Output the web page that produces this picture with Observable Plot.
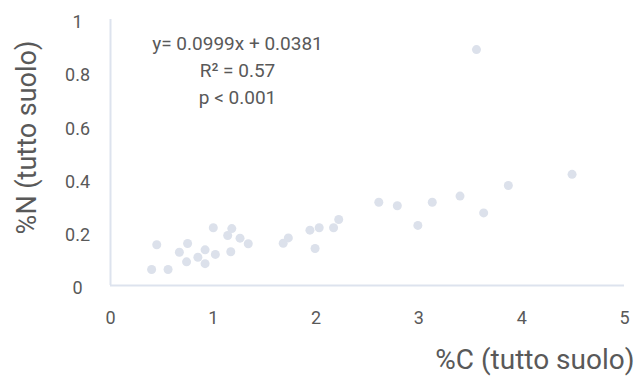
<!DOCTYPE html>
<html>
<head>
<meta charset="utf-8">
<script src="https://cdn.jsdelivr.net/npm/d3@7"></script>
<script src="https://cdn.jsdelivr.net/npm/@observablehq/plot@0.6"></script>
<style>
  html, body { margin: 0; padding: 0; background: #ffffff; }
  svg { display: block; }
</style>
</head>
<body>
<div id="chart"></div>
<script>
// %C (tutto suolo) values
const carbon = [0.40, 0.56, 0.45, 0.67, 0.75, 0.74, 0.85, 0.92, 0.92, 1.00, 1.02, 1.14, 1.18, 1.17, 1.26, 1.34,
                1.68, 1.73, 1.94, 2.03, 1.99, 2.17, 2.22, 2.61, 2.79, 2.99, 3.13, 3.40, 3.63, 3.87, 4.49, 3.56];
// %N (tutto suolo) values
const nitrogen = [0.060, 0.060, 0.153, 0.125, 0.158, 0.089, 0.106, 0.134, 0.082, 0.217, 0.117, 0.188, 0.214, 0.127, 0.178, 0.157,
                  0.159, 0.179, 0.208, 0.217, 0.139, 0.217, 0.248, 0.313, 0.300, 0.226, 0.313, 0.336, 0.273, 0.376, 0.418, 0.887];

const xTicks = [0, 1, 2, 3, 4, 5];
const xTickLabels = ["0", "1", "2", "3", "4", "5"];
const yTicks = [0, 0.2, 0.4, 0.6, 0.8, 1];
const yTickLabels = ["0", "0.2", "0.4", "0.6", "0.8", "1"];
const xTitle = "%C (tutto suolo)";
const yTitle = "%N (tutto suolo)";
const annotation = ["y= 0.0999x + 0.0381", "R² = 0.57", "p < 0.001"];

const points = carbon.map((c, i) => ({c, n: nitrogen[i]}));

const textColor = "#595959";
const axisColor = "#dde3ee";
const dotColor = "#dce1eb";
const font = "Roboto, 'DejaVu Sans', sans-serif";

const chart = Plot.plot({
  width: 637,
  height: 376,
  marginLeft: 110,
  marginRight: 13,
  marginTop: 19,
  marginBottom: 91,
  style: {fontFamily: font, background: "#ffffff", color: textColor},
  x: {domain: [0, 5]},
  y: {domain: [0, 1]},
  marks: [
    Plot.ruleX([0], {stroke: axisColor, strokeWidth: 2}),
    Plot.ruleY([0], {stroke: axisColor, strokeWidth: 2}),
    Plot.dot(points, {x: "c", y: "n", r: 4.5, fill: dotColor, stroke: "none"}),
    Plot.axisX({ticks: xTicks, tickSize: 0, tickPadding: 26, tickFormat: (d, i) => xTickLabels[i],
                fontSize: 18, fill: textColor, label: null}),
    Plot.axisY({ticks: yTicks, tickSize: 0, tickPadding: 33, textAnchor: "middle", dy: 3,
                tickFormat: (d, i) => yTickLabels[i], fontSize: 18, fill: textColor, label: null}),
    Plot.text([xTitle], {frameAnchor: "bottom-right", text: d => d, textAnchor: "end", lineAnchor: "middle",
                dx: 10, dy: 75, fontSize: 28, fill: textColor}),
    Plot.text([yTitle], {frameAnchor: "left", text: d => d, textAnchor: "middle", lineAnchor: "middle",
                rotate: -90, dx: -83, dy: -15, fontSize: 27, fill: textColor}),
    Plot.text([annotation.join("\n")], {frameAnchor: "top-left", text: d => d, textAnchor: "middle",
                lineAnchor: "middle", lineHeight: 1.42, dx: 127, dy: 49, fontSize: 19, fill: textColor})
  ]
});
document.getElementById("chart").appendChild(chart);
</script>
</body>
</html>
